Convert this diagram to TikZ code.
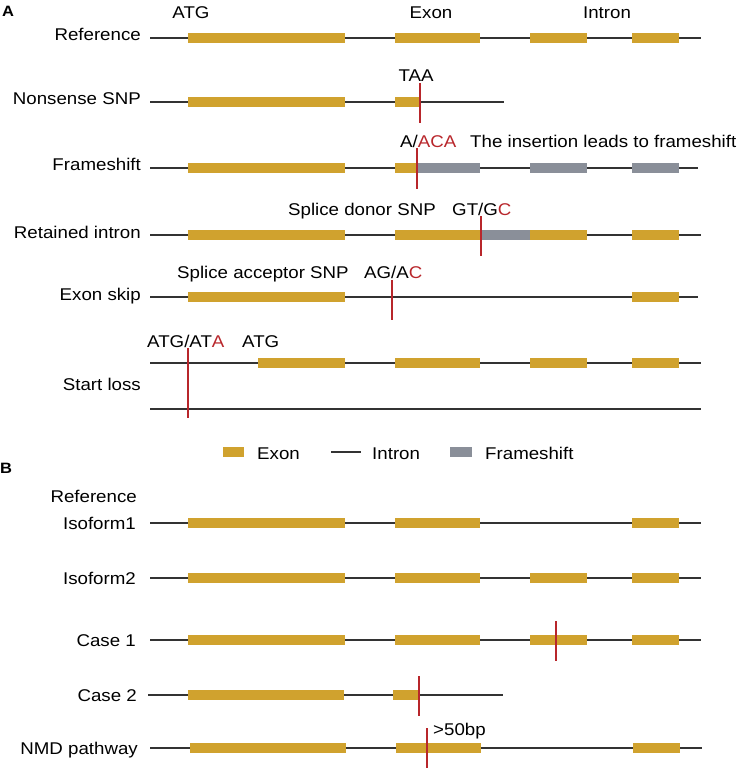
\documentclass[tikz,border=0pt]{standalone}
\usepackage{fontspec}
\setmainfont{Liberation Sans}[FakeStretch=1.1]
\usetikzlibrary{positioning}
\definecolor{exongold}{RGB}{208,162,46}
\definecolor{shiftgray}{RGB}{138,143,153}
\definecolor{snpred}{RGB}{184,38,43}
\tikzstyle{intron}   = [line width=1.3pt, draw=black!80]
\tikzstyle{exon}     = [fill=exongold]
\tikzstyle{fshift}   = [fill=shiftgray]
\tikzstyle{snp}      = [line width=2.5pt, draw=snpred]
\tikzstyle{rowlabel} = [anchor=base east, inner sep=0pt, font=\fontsize{17}{20}\selectfont]
\tikzstyle{note}     = [anchor=base west, inner sep=0pt, font=\fontsize{17}{20}\selectfont]
\tikzstyle{panel}    = [anchor=base west, inner sep=0pt, font=\fontsize{15}{18}\selectfont\bfseries]
\newcommand{\mut}[1]{\textcolor{snpred}{#1}}

\begin{document}
\begin{tikzpicture}[x=1pt, y=-1pt]
    \useasboundingbox (0,0) rectangle (744,770);

    % Panel A
    \node[panel] (pA) at (2,17) {A};

    % Reference
    \node[rowlabel] (lref) at (141,41) {Reference};
    \coordinate (refL) at (150,38);
    \coordinate (refR) at (701,38);
    \draw[intron] (refL) -- (refR);
    \foreach \a/\b in {188/345, 395/480, 530/587, 632/679}
        \fill[exon] (\a,32.7) rectangle (\b,43.3);
    \node[anchor=base, inner sep=0pt, font=\fontsize{17}{20}\selectfont] (tatg) at (191,19) {ATG};
    \node[anchor=base, inner sep=0pt, font=\fontsize{17}{20}\selectfont] (texon) at (431,19) {Exon};
    \node[anchor=base, inner sep=0pt, font=\fontsize{17}{20}\selectfont] (tintron) at (607,19) {Intron};

    % Nonsense SNP
    \node[rowlabel] (lnons) at (141,105) {Nonsense SNP};
    \coordinate (nonsL) at (150,102);
    \coordinate (nonsR) at (504,102);
    \draw[intron] (nonsL) -- (nonsR);
    \foreach \a/\b in {188/345, 395/420}
        \fill[exon] (\a,96.7) rectangle (\b,107.3);
    \draw[snp] (420,83) -- (420,123);
    \node[anchor=base, inner sep=0pt, font=\fontsize{17}{20}\selectfont] (ttaa) at (416,82) {TAA};

    % Frameshift
    \node[rowlabel] (lfs) at (141,171) {Frameshift};
    \coordinate (fsL) at (150,168);
    \coordinate (fsR) at (698,168);
    \draw[intron] (fsL) -- (fsR);
    \foreach \a/\b in {188/345, 395/417}
        \fill[exon] (\a,162.7) rectangle (\b,173.3);
    \foreach \a/\b in {417/480, 530/587, 632/679}
        \fill[fshift] (\a,162.7) rectangle (\b,173.3);
    \draw[snp] (417,148) -- (417,189);
    \node[note] (tins) at (400,148) {A/\mut{ACA}};
    \node[note] (tfs) at (470,148) {The insertion leads to frameshift};

    % Retained intron
    \node[rowlabel] (lret) at (141,238) {Retained intron};
    \coordinate (retL) at (150,235);
    \coordinate (retR) at (701,235);
    \draw[intron] (retL) -- (retR);
    \foreach \a/\b in {188/345, 395/481, 530/587, 632/679}
        \fill[exon] (\a,229.7) rectangle (\b,240.3);
    \fill[fshift] (481,229.7) rectangle (530,240.3);
    \draw[snp] (481,216) -- (481,256);
    \node[note] (tdonor) at (288,215) {Splice donor SNP};
    \node[note] (tgt) at (452,215) {GT/G\mut{C}};

    % Exon skip
    \node[rowlabel] (lskip) at (141,300) {Exon skip};
    \coordinate (skipL) at (150,297);
    \coordinate (skipR) at (698,297);
    \draw[intron] (skipL) -- (skipR);
    \foreach \a/\b in {188/345, 632/679}
        \fill[exon] (\a,291.7) rectangle (\b,302.3);
    \draw[snp] (392,280) -- (392,320);
    \node[note] (tacc) at (177,278) {Splice acceptor SNP};
    \node[note] (tag) at (364,278) {AG/A\mut{C}};

    % Start loss
    \node[rowlabel] (lstart) at (141,390) {Start loss};
    \coordinate (stL) at (150,363);
    \coordinate (stR) at (701,363);
    \coordinate (sbL) at (150,409);
    \coordinate (sbR) at (701,409);
    \draw[intron] (stL) -- (stR);
    \draw[intron] (sbL) -- (sbR);
    \foreach \a/\b in {258/345, 395/480, 530/587, 632/679}
        \fill[exon] (\a,357.7) rectangle (\b,368.3);
    \draw[snp] (188,348) -- (188,418);
    \node[note] (tata) at (147,347) {ATG/AT\mut{A}};
    \node[note] (tatg2) at (242,347) {ATG};

    % Legend
    \fill[exon] (223,447) rectangle (244,457);
    \node[note] (kexon) at (257,459) {Exon};
    \coordinate (kinL) at (331,452);
    \coordinate (kinR) at (361,452);
    \draw[intron] (kinL) -- (kinR);
    \node[note] (kintron) at (372,459) {Intron};
    \fill[fshift] (450,447) rectangle (472,457);
    \node[note] (kfs) at (485,459) {Frameshift};

    % Panel B
    \node[panel] (pB) at (0,473) {B};
    \node[rowlabel] (lbref) at (137,502) {Reference};

    % Isoform1
    \node[rowlabel] (liso1) at (136,529) {Isoform1};
    \coordinate (i1L) at (150,523);
    \coordinate (i1R) at (701,523);
    \draw[intron] (i1L) -- (i1R);
    \foreach \a/\b in {188/345, 395/480, 632/679}
        \fill[exon] (\a,517.7) rectangle (\b,528.3);

    % Isoform2
    \node[rowlabel] (liso2) at (136,584) {Isoform2};
    \coordinate (i2L) at (150,578);
    \coordinate (i2R) at (701,578);
    \draw[intron] (i2L) -- (i2R);
    \foreach \a/\b in {188/345, 395/480, 530/587, 632/679}
        \fill[exon] (\a,572.7) rectangle (\b,583.3);

    % Case 1
    \node[rowlabel] (lc1) at (136,646) {Case 1};
    \coordinate (c1L) at (150,640);
    \coordinate (c1R) at (701,640);
    \draw[intron] (c1L) -- (c1R);
    \foreach \a/\b in {188/345, 395/480, 530/587, 632/679}
        \fill[exon] (\a,634.7) rectangle (\b,645.3);
    \draw[snp] (556,621) -- (556,661);

    % Case 2
    \node[rowlabel] (lc2) at (137,701) {Case 2};
    \coordinate (c2L) at (148,695);
    \coordinate (c2R) at (503,695);
    \draw[intron] (c2L) -- (c2R);
    \foreach \a/\b in {188/344, 393/420}
        \fill[exon] (\a,689.7) rectangle (\b,700.3);
    \draw[snp] (419,676) -- (419,716);

    % NMD pathway
    \node[rowlabel] (lnmd) at (138,754) {NMD pathway};
    \coordinate (nmdL) at (150,748);
    \coordinate (nmdR) at (702,748);
    \draw[intron] (nmdL) -- (nmdR);
    \foreach \a/\b in {190/346, 396/481, 633/680}
        \fill[exon] (\a,742.7) rectangle (\b,753.3);
    \draw[snp] (427,728) -- (427,768);
    \node[note] (tbp) at (433,735) {>50bp};

\end{tikzpicture}
\end{document}
